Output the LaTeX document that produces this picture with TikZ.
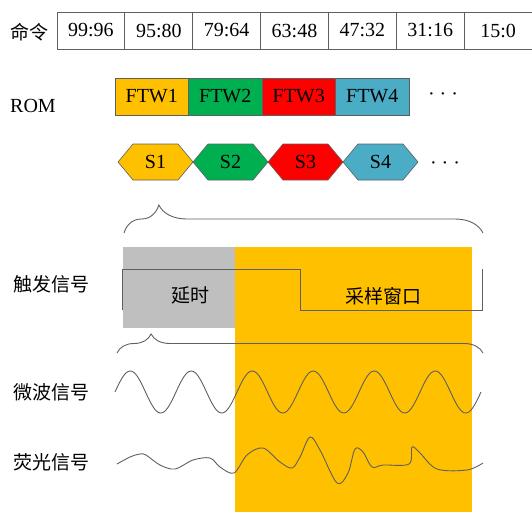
\documentclass[tikz,border=0pt]{standalone}
\usepackage{fontspec}
\setmainfont{Liberation Serif}
\newfontfamily\cjk{Noto Sans CJK SC}
\usetikzlibrary{decorations.pathreplacing}
\definecolor{cOr}{HTML}{FFC000}
\definecolor{cGr}{HTML}{00B050}
\definecolor{cRd}{HTML}{FF0000}
\definecolor{cBl}{HTML}{4BACC6}
\definecolor{cGy}{HTML}{BFBFBF}
\definecolor{cLn}{HTML}{5F5F5F}
\begin{document}
\begin{tikzpicture}[x=1pt,y=-1pt,
  txt/.style={font=\fontsize{20}{24}\selectfont, inner sep=0pt},
  cjktxt/.style={font=\cjk\fontsize{19}{22}\selectfont, inner sep=0pt},
  cell/.style={draw=cLn, line width=0.8pt, minimum width=67.86pt, minimum height=37pt, inner sep=0pt, outer sep=0pt, font=\fontsize{20}{24}\selectfont},
  romcell/.style={draw=cLn, line width=0.8pt, minimum width=73.5pt, minimum height=37pt, inner sep=0pt, outer sep=0pt, font=\fontsize{20}{24}\selectfont},
  hexa/.style={draw=cLn, line width=0.6pt},
  sig/.style={draw=cLn, line width=0.9pt},
  bracestyle/.style={draw=cLn, line width=0.9pt, decorate}
]
\useasboundingbox (0,0) rectangle (532,512);
% command row
\node[cjktxt] (cmdlab) at (29,32) {命令};
\foreach \t [count=\i] in {99:96,95:80,79:64,63:48,47:32,31:16,15:0}{
  \node[cell] (c\i) at ({57+67.86*(\i-0.5)},30.5) {\t};
}
% ROM row
\node[txt] (romlab) at (33,106) {ROM};
\node[romcell, fill=cOr] (f1) at (151.75,96.5) {FTW1};
\node[romcell, fill=cGr] (f2) at (225.25,96.5) {FTW2};
\node[romcell, fill=cRd] (f3) at (298.75,96.5) {FTW3};
\node[romcell, fill=cBl] (f4) at (372.25,96.5) {FTW4};
\node[txt] (fdots) at (443,97) {· · ·};
% hexagons
\foreach \c [count=\i] in {cOr,cGr,cRd,cBl}{
  \pgfmathsetmacro{\L}{118+75*(\i-1)}
  \draw[hexa, fill=\c] (\L,162) -- (\L+15,144) -- (\L+60,144) -- (\L+75,162) -- (\L+60,180) -- (\L+15,180) -- cycle;
  \node[txt] (s\i) at (\L+37.5,162) {S\i};
}
\node[txt] (sdots) at (445,166) {· · ·};
% brace 1
\draw[bracestyle, decoration={brace, amplitude=28pt, aspect=0.097}] (124,233) -- (483,233);
% boxes
\fill[cGy] (123,247) rectangle (235,328);
\fill[cOr] (235,247) rectangle (472,512);
% trigger
\node[cjktxt] (trglab) at (51,284) {触发信号};
\draw[sig] (122,310) -- (122,269) -- (300,269) -- (300,310) -- (482,310) -- (482,269);
\node[cjktxt] (delay) at (190,295) {延时};
\node[cjktxt] (window) at (383,296) {采样窗口};
% brace 2
\draw[bracestyle, decoration={brace, amplitude=19pt, aspect=0.093}] (117,353) -- (483,353);
% microwave
\node[cjktxt] (mwlab) at (51,392) {微波信号};
\draw[sig] plot[domain=0:366, samples=240, smooth] ({115+\x},{392-21*sin(5.9016*\x)});
% fluorescence
\node[cjktxt] (fllab) at (51,462) {荧光信号};
\draw[sig] plot[smooth, tension=0.55] coordinates {
 (117,464) (130,457) (140,454) (146,455) (160,465) (175,469) (193,460) (210,458)
 (220,467) (234,473) (247,455) (263,448) (280,462) (292,468) (300,457) (310,437)
 (320,450) (337,483) (348,473) (355,449) (363,452) (372,467) (383,465) (409,464)
 (412,447) (420,453) (437,469) (467,470) (483,463)};
\end{tikzpicture}
\end{document}
